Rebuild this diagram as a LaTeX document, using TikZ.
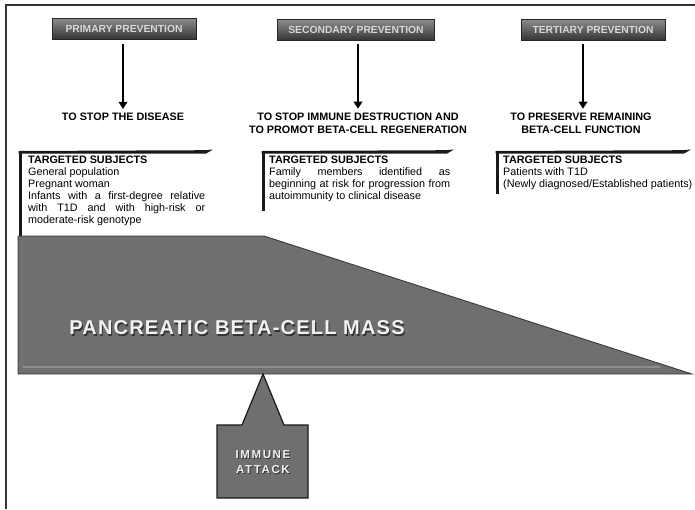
\documentclass[tikz,border=0pt]{standalone}
\usepackage{fontspec}
\setmainfont{Liberation Sans}
\usetikzlibrary{arrows.meta,calc}
\definecolor{massgray}{HTML}{6F6F6F}
\definecolor{massedge}{HTML}{3A3A3A}
\definecolor{hdrtext}{HTML}{D8D8D8}
\definecolor{lighttext}{HTML}{F2F2F2}
\hyphenpenalty=10000
\exhyphenpenalty=10000
\begin{document}
\begin{tikzpicture}[x=1pt,y=-1pt,
  hdr/.style={draw=black!85, line width=0.8pt, top color=black!45, bottom color=black!80,
    text=hdrtext, font=\bfseries\fontsize{10.3}{12}\selectfont, minimum height=21pt, inner sep=0pt},
  goal/.style={font=\bfseries\fontsize{10.8}{13.5}\selectfont, align=center, inner sep=0pt},
  arr/.style={line width=2.6pt, -{Triangle[length=7pt,width=8.5pt]}},
  subj/.style={anchor=north west, inner sep=0pt, align=justify,
    font=\fontsize{10.8}{12}\selectfont},
  bracketline/.style={fill=black!90},
  masstext/.style={font=\bfseries\fontsize{20}{22}\selectfont\addfontfeatures{LetterSpace=6}, inner sep=0pt},
  iatext/.style={font=\bfseries\fontsize{11.5}{15}\selectfont\addfontfeatures{LetterSpace=14}, align=center, inner sep=0pt}
]
\useasboundingbox (0,0) rectangle (695,509);

% outer frame (top and left edges)
\draw[line width=1.4pt, black!80] (6,509) -- (6,5) -- (695,5);

% prevention headers
\node[hdr, minimum width=144pt] (h1) at (124,29) {PRIMARY PREVENTION};
\node[hdr, minimum width=157pt] (h2) at (356,30) {SECONDARY PREVENTION};
\node[hdr, minimum width=144pt] (h3) at (593,30) {TERTIARY PREVENTION};

% goals
\node[goal] (g1) at (123,117) {TO STOP THE DISEASE};
\node[goal] (g2) at (358,123.5) {TO STOP IMMUNE DESTRUCTION AND\\TO PROMOT BETA-CELL REGENERATION};
\node[goal] (g3) at (581,123.5) {TO PRESERVE REMAINING\\BETA-CELL FUNCTION};

% arrows from headers to goals
\coordinate (a1) at (123,44);
\coordinate (a2) at (358,44);
\coordinate (a3) at (583,44);
\draw[arr] (a1) -- ([yshift=4pt]g1.north -| a1);
\draw[arr] (a2) -- ([yshift=4pt]g2.north -| a2);
\draw[arr] (a3) -- ([yshift=4pt]g3.north -| a3);

% brackets around the targeted subjects
\fill[bracketline] (18.5,151) -- (205,150.2) -- (213,149.5) -- (206,153.6) -- (18.5,153.6) -- cycle;
\fill[bracketline] (18.5,151) rectangle (21.5,237);
\fill[bracketline] (261.5,151) -- (446,150.2) -- (454,149.5) -- (447,153.6) -- (261.5,153.6) -- cycle;
\fill[bracketline] (261.5,151) rectangle (264.5,211);
\fill[bracketline] (495.5,151) -- (683,150.2) -- (691,149.5) -- (684,153.6) -- (495.5,153.6) -- cycle;
\fill[bracketline] (495.5,151) rectangle (498.5,194);

\node[subj, text width=177pt] (s1) at (28,156) {\textbf{TARGETED SUBJECTS}\\
General population\\
Pregnant woman\\
Infants with a first-degree relative\linebreak
with T1D and with high-risk or\linebreak
moderate-risk genotype};
\node[subj, text width=181pt] (s2) at (269,156) {\textbf{TARGETED SUBJECTS}\\
Family members identified as\linebreak
beginning at risk for progression from\linebreak
autoimmunity to clinical disease};
\node[subj, align=left] (s3) at (503,156) {\textbf{TARGETED SUBJECTS}\\
Patients with T1D\\
(Newly diagnosed/Established patients)};

% pancreatic beta-cell mass
\fill[massgray] (18,236) -- (264,236) -- (692,374) -- (18,374) -- cycle;
\draw[black!45, line width=2pt] (21,367) -- (660,367);
\draw[black!55, line width=1.5pt] (22,240) -- (22,372);
\draw[massedge, line width=0.9pt] (18,374) -- (18,236) -- (264,236) -- (692,374) -- cycle;
\node[masstext, text=black!80] at (238.2,329.2) {PANCREATIC BETA-CELL MASS};
\node[masstext, text=lighttext] (mass) at (237,328) {PANCREATIC BETA-CELL MASS};

% immune attack callout
\filldraw[fill=massgray, draw=black!90, line width=1.2pt]
  (217,425) -- (242,425) -- (263,374) -- (284,425) -- (308,425) -- (308,498) -- (217,498) -- cycle;
\node[iatext, text=black!80] at (264,463) {IMMUNE\\ATTACK};
\node[iatext, text=lighttext] (ia) at (263,462) {IMMUNE\\ATTACK};
\end{tikzpicture}
\end{document}
